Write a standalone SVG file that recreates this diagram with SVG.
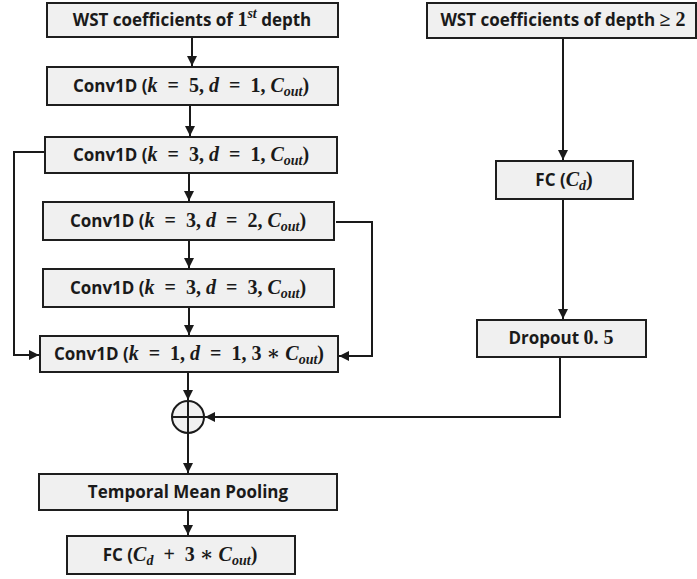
<svg xmlns="http://www.w3.org/2000/svg" width="697" height="579" viewBox="0 0 697 579">
  <style>
    .box { fill: #f0f0f0; stroke: #1e1e1e; stroke-width: 2; }
    .lbl { font-family: "Open Sans", "Liberation Sans", sans-serif; font-weight: bold; font-size: 17px; fill: #1a1a1a; text-anchor: middle; }
    .m { font-family: "Liberation Serif", "DejaVu Serif", serif; font-style: italic; font-weight: bold; font-size: 20px; }
    .n { font-family: "Liberation Serif", "DejaVu Serif", serif; font-style: normal; font-weight: bold; font-size: 20px; }
    .sub { font-size: 14px; }
    .wire { fill: none; stroke: #1a1a1a; stroke-width: 2; }
  </style>
  <defs>
    <marker id="arrow" viewBox="0 0 10 10" refX="10" refY="5" markerWidth="5" markerHeight="5" orient="auto" markerUnits="strokeWidth">
      <path d="M0,0 L10,5 L0,10 z" fill="#1a1a1a"/>
    </marker>
  </defs>
  <rect width="697" height="579" fill="#ffffff"/>

  <g id="connectors">
    <line class="wire" x1="192" y1="37" x2="192" y2="66" marker-end="url(#arrow)"/>
    <line class="wire" x1="190" y1="105" x2="190" y2="136" marker-end="url(#arrow)"/>
    <line class="wire" x1="189" y1="173" x2="189" y2="201" marker-end="url(#arrow)"/>
    <line class="wire" x1="189" y1="240" x2="189" y2="268" marker-end="url(#arrow)"/>
    <line class="wire" x1="189" y1="307" x2="189" y2="335" marker-end="url(#arrow)"/>
    <polyline class="wire" points="45,152 14,152 14,355 39,355" marker-end="url(#arrow)"/>
    <polyline class="wire" points="336,222 372,222 372,356 339,356" marker-end="url(#arrow)"/>
    <line class="wire" x1="188" y1="372" x2="188" y2="400" marker-end="url(#arrow)"/>
    <line class="wire" x1="188" y1="433" x2="188" y2="473" marker-end="url(#arrow)"/>
    <line class="wire" x1="188" y1="510" x2="188" y2="535" marker-end="url(#arrow)"/>
    <line class="wire" x1="563" y1="38" x2="563" y2="160" marker-end="url(#arrow)"/>
    <line class="wire" x1="563" y1="199" x2="563" y2="319" marker-end="url(#arrow)"/>
    <polyline class="wire" points="560,357 560,417 205,417" marker-end="url(#arrow)"/>
  </g>

  <g id="sum">
    <circle cx="188" cy="417" r="16" fill="#f0f0f0" stroke="#1a1a1a" stroke-width="2"/>
    <line x1="172" y1="417" x2="204" y2="417" stroke="#1a1a1a" stroke-width="2"/>
    <line x1="188" y1="401" x2="188" y2="433" stroke="#1a1a1a" stroke-width="2"/>
  </g>

  <g id="wst1">
    <rect class="box" x="47" y="3" width="291" height="34"/>
    <text class="lbl" x="192" y="26">WST coefficients of <tspan class="n">1</tspan><tspan class="m sub" dy="-8">st</tspan><tspan dy="8"> depth</tspan></text>
  </g>

  <!-- en spaces (&#8194;) widen the gaps around "=" the way a math font sets them -->
  <g id="conv-k5">
    <rect class="box" x="47" y="67" width="291" height="38"/>
    <text class="lbl" x="191" y="92">Conv1D (<tspan class="m">k</tspan><tspan class="n">&#8194;=&#8194;5, </tspan><tspan class="m">d</tspan><tspan class="n">&#8194;=&#8194;1, </tspan><tspan class="m">C</tspan><tspan class="m sub" dy="4">out</tspan><tspan class="n" dy="-4">)</tspan></text>
  </g>

  <g id="conv-d1">
    <rect class="box" x="45" y="137" width="292" height="36"/>
    <text class="lbl" x="191" y="161">Conv1D (<tspan class="m">k</tspan><tspan class="n">&#8194;=&#8194;3, </tspan><tspan class="m">d</tspan><tspan class="n">&#8194;=&#8194;1, </tspan><tspan class="m">C</tspan><tspan class="m sub" dy="4">out</tspan><tspan class="n" dy="-4">)</tspan></text>
  </g>

  <g id="conv-d2">
    <rect class="box" x="43" y="202" width="291" height="38"/>
    <text class="lbl" x="188" y="227">Conv1D (<tspan class="m">k</tspan><tspan class="n">&#8194;=&#8194;3, </tspan><tspan class="m">d</tspan><tspan class="n">&#8194;=&#8194;2, </tspan><tspan class="m">C</tspan><tspan class="m sub" dy="4">out</tspan><tspan class="n" dy="-4">)</tspan></text>
  </g>

  <g id="conv-d3">
    <rect class="box" x="43" y="269" width="291" height="38"/>
    <text class="lbl" x="188" y="294">Conv1D (<tspan class="m">k</tspan><tspan class="n">&#8194;=&#8194;3, </tspan><tspan class="m">d</tspan><tspan class="n">&#8194;=&#8194;3, </tspan><tspan class="m">C</tspan><tspan class="m sub" dy="4">out</tspan><tspan class="n" dy="-4">)</tspan></text>
  </g>

  <g id="conv-k1">
    <rect class="box" x="40" y="336" width="298" height="36"/>
    <text class="lbl" x="189" y="360">Conv1D (<tspan class="m">k</tspan><tspan class="n">&#8194;=&#8194;1, </tspan><tspan class="m">d</tspan><tspan class="n">&#8194;=&#8194;1, 3 ∗ </tspan><tspan class="m">C</tspan><tspan class="m sub" dy="4">out</tspan><tspan class="n" dy="-4">)</tspan></text>
  </g>

  <g id="pooling">
    <rect class="box" x="39" y="474" width="298" height="36"/>
    <text class="lbl" x="188" y="498">Temporal Mean Pooling</text>
  </g>

  <g id="fc-out">
    <rect class="box" x="67" y="536" width="228" height="38"/>
    <text class="lbl" x="180" y="561">FC (<tspan class="m">C</tspan><tspan class="m sub" dy="4">d</tspan><tspan class="n" dy="-4">&#8194;+&#8194;3 ∗ </tspan><tspan class="m">C</tspan><tspan class="m sub" dy="4">out</tspan><tspan class="n" dy="-4">)</tspan></text>
  </g>

  <g id="wst2">
    <rect class="box" x="427" y="3" width="269" height="35"/>
    <text class="lbl" x="563" y="26">WST coefficients of depth <tspan class="n">≥ 2</tspan></text>
  </g>

  <g id="fc-d">
    <rect class="box" x="496" y="161" width="137" height="38"/>
    <text class="lbl" x="564" y="186">FC (<tspan class="m">C</tspan><tspan class="m sub" dy="4">d</tspan><tspan class="n" dy="-4">)</tspan></text>
  </g>

  <g id="dropout">
    <rect class="box" x="477" y="320" width="169" height="37"/>
    <text class="lbl" x="561" y="344">Dropout <tspan class="n">0. 5</tspan></text>
  </g>
</svg>
